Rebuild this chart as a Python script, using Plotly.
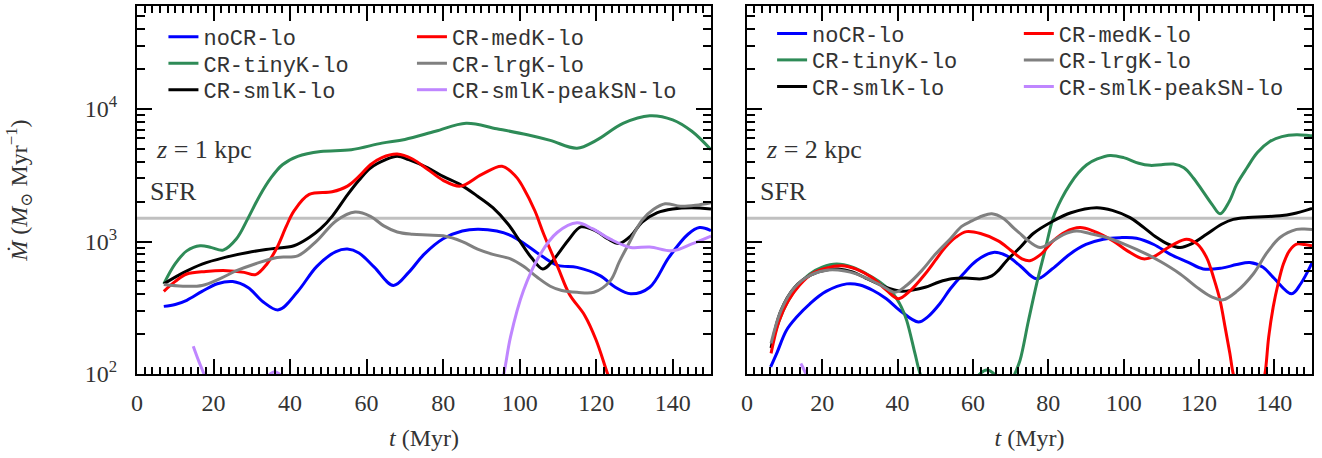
import numpy as np
import plotly.graph_objects as go

# ---------------- data (left panel, z = 1 kpc) ----------------
noCR_L_t = [7, 10, 13, 17, 21, 25, 29, 33, 37, 42, 47, 52, 55, 58, 62, 67, 71, 75, 80, 85, 89, 94, 98, 102, 106, 110, 115, 121, 125, 129, 134, 139, 144, 147, 150]
noCR_L_y = [324, 335, 360, 420, 480, 499, 450, 350, 305, 420, 650, 840, 877, 820, 640, 466, 585, 800, 1050, 1200, 1239, 1200, 1100, 930, 770, 660, 638, 553, 452, 403, 452, 759, 1135, 1274, 1210]

tinyK_L_t = [7, 10, 13, 16.5, 19.5, 22.5, 26, 29, 32, 35, 38, 42, 48, 56, 64, 70, 78, 86, 94, 102, 108, 115, 120, 127, 134, 140, 145, 150]
tinyK_L_y = [479, 680, 850, 929, 900, 862, 1050, 1496, 2200, 3020, 3800, 4395, 4780, 4930, 5530, 5900, 6800, 7816, 7100, 6400, 5800, 5070, 5800, 7800, 8913, 8300, 6800, 4930]

smlK_L_t = [7, 12, 17, 23, 29, 35, 41, 45, 48, 51, 55, 58, 61, 65, 68, 71, 76, 80, 84.5, 89, 93, 97, 100, 103, 106, 108, 110, 113, 116, 120, 123, 126, 129, 132, 136, 140, 145, 150]
smlK_L_y = [479, 580, 676, 760, 828, 880, 929, 1072, 1250, 1550, 2250, 2900, 3590, 4150, 4395, 4150, 3600, 3100, 2690, 2200, 1800, 1350, 1012, 760, 621, 680, 803, 1050, 1290, 1200, 1050, 967, 1100, 1400, 1650, 1760, 1800, 1760]

medK_L_t = [7, 10, 13, 18, 23.5, 28, 31, 34, 36.6, 39, 41, 45, 51, 55, 58, 61, 64, 68, 72, 76, 80, 84.5, 90, 95.4, 99, 101, 104, 106.3, 110, 113, 117, 120, 123, 125]
medK_L_y = [421, 500, 569, 595, 603, 585, 563, 680, 902, 1300, 1698, 2270, 2373, 2620, 3100, 3800, 4300, 4570, 4200, 3500, 2900, 2620, 3200, 3700, 3100, 2540, 1700, 1135, 638, 400, 277, 180, 100, 70]

lrgK_L_t = [7, 12, 17, 22, 26, 31, 36.6, 42, 47, 52, 57, 61, 64.5, 68, 72, 76, 80, 85, 89, 93, 97.6, 101, 104.6, 108, 111, 115, 119.4, 123.7, 126, 128, 132, 135, 138, 142, 146, 150]
lrgK_L_y = [473, 460, 466, 530, 603, 680, 759, 780, 1012, 1430, 1670, 1550, 1312, 1180, 1135, 1120, 1104, 1000, 877, 800, 740, 650, 537, 460, 427, 414, 414, 507, 700, 902, 1450, 1750, 1930, 1850, 1880, 1965]

peakSN_L_t = [14.7, 16, 17.5, 18.5, None, 34, 36, 38, None, 95, 96, 97.6, 101, 105.4, 109.8, 115, 119, 123.7, 129, 134, 140, 145, 150]
peakSN_L_y = [162, 128, 100, 85, None, 95, 104, 95, None, 80, 105, 190, 427, 803, 1170, 1385, 1250, 1042, 902, 910, 852, 960, 1100]

# ---------------- data (right panel, z = 2 kpc) ----------------
noCR_R_t = [6.3, 7.9, 10.5, 13.2, 16.7, 21, 26.5, 30, 33.5, 37, 40.6, 45.5, 48, 51.2, 54, 57.4, 61, 65.4, 69, 72.5, 76.9, 81, 85.7, 90, 94.6, 99, 103.4, 108, 112.3, 117, 121.1, 126, 130, 133.5, 137, 139.7, 144.6, 147, 150]
noCR_R_y = [113, 143, 214, 269, 339, 420, 479, 470, 427, 370, 302, 247, 270, 339, 440, 569, 720, 828, 780, 657, 523, 620, 803, 950, 1042, 1070, 1060, 950, 803, 700, 621, 630, 670, 695, 640, 537, 403, 480, 690]

tinyK_R_t = [6.6, 8.5, 10.5, 13.5, 16.7, 20, 23.8, 28, 31.8, 35.5, 38.8, 41, 42.4, 44.6, 46, 47, None, 61, 63.7, 66.5, None, 70.5, 71.1, 72.5, 74.7, 76.9, 79.1, 81.3, 83.5, 85.7, 88, 90.2, 93, 96.4, 100, 104, 107, 110, 113.2, 116, 118.5, 121, 123.5, 125.6, 128, 130, 132.7, 135.5, 138.8, 142, 145.9, 149.5, 150]
tinyK_R_y = [170, 250, 339, 460, 569, 640, 676, 640, 569, 490, 403, 320, 254, 143, 100, 88, None, 95, 107, 95, None, 90, 100, 127, 250, 479, 850, 1515, 2100, 2690, 3300, 3800, 4200, 4470, 4300, 3900, 3760, 3800, 3845, 3600, 3020, 2400, 1900, 1620, 2000, 2700, 3590, 4700, 5690, 6200, 6400, 6300, 6300]

smlK_R_t = [6.4, 9, 12.7, 17, 21, 24.2, 28, 31.5, 34.9, 38, 41.1, 44, 47.3, 51, 54.3, 58, 62.3, 65, 66.7, 69, 72.5, 76, 81.3, 86, 92.8, 97, 101.7, 105, 108.8, 112, 115, 118, 122, 126, 129.1, 133, 137, 141.5, 145, 150]
smlK_R_y = [157, 300, 452, 560, 610, 621, 590, 530, 479, 440, 421, 430, 452, 495, 523, 530, 523, 550, 603, 720, 902, 1150, 1430, 1650, 1800, 1720, 1515, 1300, 1072, 950, 902, 960, 1135, 1350, 1470, 1520, 1540, 1563, 1620, 1780]

medK_R_t = [6.4, 8.5, 11, 14, 17.2, 21, 25.1, 29, 33.1, 37, 40.2, 43.5, 47.3, 50, 52.6, 55.5, 58.3, 62, 66.7, 70, 73, 75.1, 78, 81.3, 84.5, 88.4, 92, 97.2, 101, 105.2, 108, 110.5, 113.5, 116.7, 119.5, 122, 124, 125.6, 127, 128.2, 129.1, 130, None, 136.8, 137.5, 138.5, 139.7, 141, 142.4, 144, 145.9, 148, 150]
medK_R_y = [143, 250, 359, 470, 569, 630, 657, 620, 537, 430, 370, 430, 569, 720, 902, 1080, 1188, 1150, 1012, 860, 740, 716, 800, 1012, 1180, 1274, 1200, 1012, 850, 740, 770, 852, 960, 1042, 960, 759, 520, 359, 220, 143, 100, 85, None, 85, 100, 190, 320, 480, 676, 850, 955, 950, 929]

lrgK_R_t = [6.4, 9, 12.7, 17, 21.6, 26, 29, 33.1, 36, 39.3, 42.5, 46.4, 50, 54.3, 57, 59.7, 62.5, 65, 68, 71, 72.5, 74, 77.8, 81, 84, 87.5, 91, 95.5, 100, 106.1, 110, 115, 120, 123.5, 126.4, 130, 134.4, 138, 141.5, 145.9, 148, 150]
lrgK_R_y = [170, 300, 452, 560, 610, 600, 570, 507, 460, 414, 470, 603, 800, 1072, 1300, 1430, 1560, 1620, 1500, 1250, 1150, 1050, 902, 1000, 1130, 1200, 1150, 1072, 960, 803, 700, 569, 440, 380, 363, 420, 569, 820, 1072, 1235, 1245, 1235]

peakSN_R_t = [14.3, 15.0, 15.8]
peakSN_R_y = [120, 110, 98]

SFR = 1500
names = ["noCR-lo", "CR-tinyK-lo", "CR-smlK-lo", "CR-medK-lo", "CR-lrgK-lo", "CR-smlK-peakSN-lo"]
colors = ["#0000ff", "#2e8b57", "#000000", "#ff0000", "#808080", "#bf86ff"]
panel_labels = ["<i>z</i> = 1 kpc", "<i>z</i> = 2 kpc"]
x_ticks = [0, 20, 40, 60, 80, 100, 120, 140]
y_ticks = [100, 1000, 10000]
y_ticktext = ["10<sup>2</sup>", "10<sup>3</sup>", "10<sup>4</sup>"]

left = [(noCR_L_t, noCR_L_y), (tinyK_L_t, tinyK_L_y), (smlK_L_t, smlK_L_y),
        (medK_L_t, medK_L_y), (lrgK_L_t, lrgK_L_y), (peakSN_L_t, peakSN_L_y)]
right = [(noCR_R_t, noCR_R_y), (tinyK_R_t, tinyK_R_y), (smlK_R_t, smlK_R_y),
         (medK_R_t, medK_R_y), (lrgK_R_t, lrgK_R_y), (peakSN_R_t, peakSN_R_y)]

SERIF = "Liberation Serif, DejaVu Serif, serif"
MONO = "Liberation Mono, DejaVu Sans Mono, monospace"
TXT = "#333333"

# legend placement (paper coords): one small legend per entry
leg_x = {0: [0.0225, 0.0225, 0.0225, 0.234, 0.234, 0.234],
         1: [0.5405, 0.5405, 0.5405, 0.7505, 0.7505, 0.7505]}
leg_y = {0: [0.916, 0.844, 0.772, 0.916, 0.844, 0.772],
         1: [0.925, 0.853, 0.781, 0.925, 0.853, 0.781]}

fig = go.Figure()
legend_layout = {}
for p, (data, xa, ya) in enumerate([(left, "x", "y"), (right, "x2", "y2")]):
    fig.add_trace(go.Scatter(x=[0, 150], y=[SFR, SFR], mode="lines",
                             line=dict(color="#c0c0c0", width=3),
                             showlegend=False, hoverinfo="skip", xaxis=xa, yaxis=ya))
    for i, (tt, yy) in enumerate(data):
        k = p * 6 + i + 1
        lname = "legend" if k == 1 else f"legend{k}"
        fig.add_trace(go.Scatter(x=tt, y=yy, mode="lines", name=names[i],
                                 line=dict(color=colors[i], width=3, shape="spline"),
                                 connectgaps=False, legend=lname,
                                 xaxis=xa, yaxis=ya))
        legend_layout[lname] = dict(
            x=leg_x[p][i], y=leg_y[p][i], xanchor="left", yanchor="middle",
            font=dict(family=MONO, size=22, color=TXT),
            bgcolor="rgba(0,0,0,0)", borderwidth=0, itemwidth=30)

xcommon = dict(range=[0, 150], tickmode="array", tickvals=x_ticks,
               ticks="inside", ticklen=15, tickwidth=2, tickcolor="black",
               showline=True, linecolor="black", linewidth=2, mirror="ticks",
               showgrid=False, zeroline=False,
               minor=dict(dtick=2, tick0=0, ticks="inside", ticklen=7, tickwidth=1.5,
                          tickcolor="black", showgrid=False),
               tickfont=dict(family=SERIF, size=24, color=TXT),
               ticklabelstandoff=6,
               title=dict(text="<i>t</i> (Myr)", font=dict(family=SERIF, size=24, color=TXT), standoff=14))

minor_y = [v * d for d in (100, 1000, 10000) for v in range(2, 10) if v * d <= 60000]
ycommon = dict(type="log", range=[2, np.log10(6e4)], tickmode="array",
               tickvals=y_ticks, ticktext=y_ticktext,
               ticks="inside", ticklen=15, tickwidth=2, tickcolor="black",
               showline=True, linecolor="black", linewidth=2, mirror="ticks",
               showgrid=False, zeroline=False,
               minor=dict(tickmode="array", tickvals=minor_y, ticks="inside", ticklen=8,
                          tickwidth=1.5, tickcolor="black", showgrid=False),
               tickfont=dict(family=SERIF, size=24, color=TXT),
               ticklabelstandoff=13)

fig.update_layout(
    width=1322, height=458,
    margin=dict(l=137, r=10, t=4, b=84),
    paper_bgcolor="white", plot_bgcolor="white",
    xaxis=dict(xcommon, domain=[0, 0.4885], anchor="y"),
    xaxis2=dict(xcommon, domain=[0.5191, 1], anchor="y2"),
    yaxis=dict(ycommon, anchor="x",
               title=dict(text="<i>Ṁ</i> (<i>M</i><sub>⊙</sub> Myr<sup>−1</sup>)",
                          font=dict(family=SERIF, size=24, color=TXT), standoff=50)),
    yaxis2=dict(ycommon, anchor="x2", showticklabels=False),
    showlegend=True,
    **legend_layout,
)

for p, (xr, yr) in enumerate([("x", "y"), ("x2", "y2")]):
    fig.add_annotation(x=4.5, y=np.log10(4955), xref=xr, yref=yr, text=panel_labels[p],
                       showarrow=False, xanchor="left", yanchor="middle",
                       font=dict(family=SERIF, size=26, color=TXT))
    fig.add_annotation(x=3.0, y=np.log10(2400), xref=xr, yref=yr, text="SFR",
                       showarrow=False, xanchor="left", yanchor="middle",
                       font=dict(family=SERIF, size=26, color=TXT))

fig.write_html("out.html", config={"displayModeBar": False},
               post_script="document.body.style.margin='0px';")
